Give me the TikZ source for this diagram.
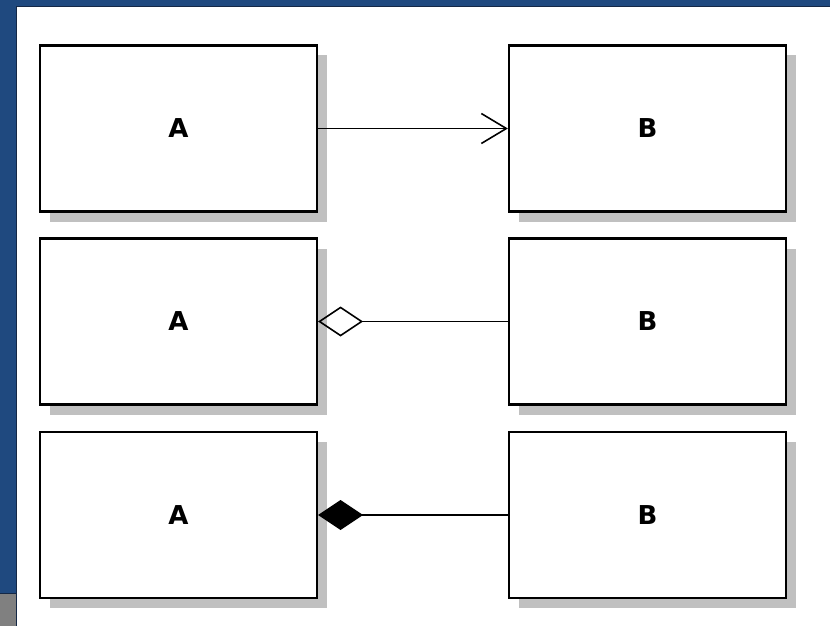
\documentclass[tikz,border=0pt]{standalone}
\usepackage{fontspec}
\setmainfont{DejaVu Sans}
\usepackage{xcolor}
\usetikzlibrary{arrows.meta,shadows,positioning}

\definecolor{frameblue}{RGB}{31,73,127}
\definecolor{framedark}{RGB}{20,40,70}
\definecolor{shadowgray}{RGB}{192,192,192}

\tikzset{
  classbox/.style={draw=black, line width=2.2pt, fill=white, minimum width=277pt, minimum height=166pt,
    inner sep=0pt, font=\fontsize{26}{26}\selectfont\bfseries,
    general shadow={fill=shadowgray, shadow xshift=10pt, shadow yshift=-10pt}},
  assoc/.style={line width=1.7pt},
}

\begin{document}
\begin{tikzpicture}[x=1pt, y=-1pt]
				\useasboundingbox (0,0) rectangle (830,626);
				\fill [white] (0,0) rectangle (830,626);
				
				% window frame
				\fill [frameblue] (0,0) rectangle (830,6);
				\fill [frameblue] (0,0) rectangle (16,593);
				\fill [gray] (0,593) rectangle (16,626);
				\draw [framedark, line width=1pt] (16.5,626) -- (16.5,6.5) -- (830,6.5);
				\draw [framedark, line width=0.8pt] (0,593) -- (16,593);
				
				% classes
				\node [classbox] (a1) at (178.5,128.5) {A};
				\node [classbox] (b1) at (647.5,128.5) {B};
				\node [classbox] (a2) at (178.5,321.5) {A};
				\node [classbox] (b2) at (647.5,321.5) {B};
				\node [classbox] (a3) at (178.5,515) {A};
				\node [classbox] (b3) at (647.5,515) {B};
				
				% association
				\draw [assoc, -{Straight Barb[length=25pt, width=30pt, line width=1.6pt]}] (a1.east) -- (b1.west);
				
				% aggregation
				\draw [assoc, {Diamond[open, length=45pt, width=30pt, line width=1.6pt]}-] (a2.east) -- (b2.west);
				
				% composition
				\draw [assoc, {Diamond[length=45pt, width=30pt]}-] (a3.east) -- (b3.west);
\end{tikzpicture}
\end{document}
